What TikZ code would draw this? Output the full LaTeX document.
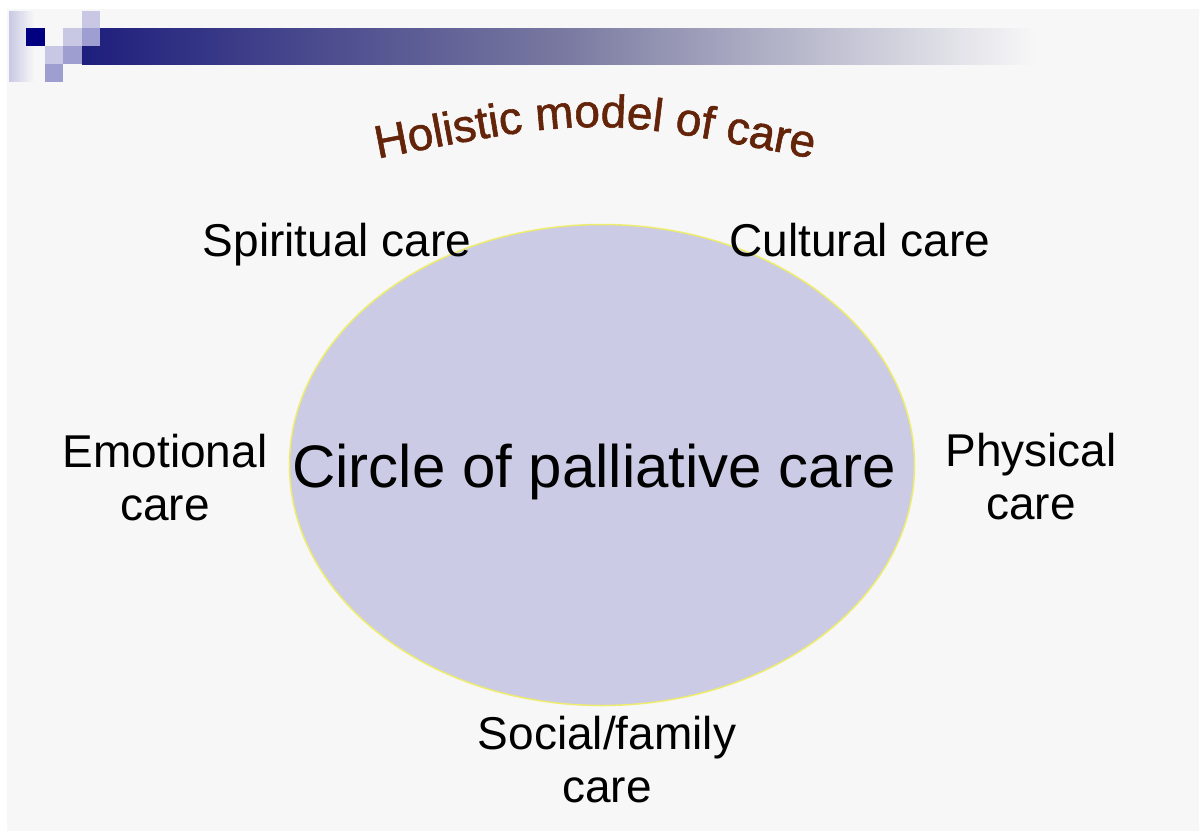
\documentclass[tikz,border=0pt]{standalone}
\usepackage{fontspec}
\setmainfont{Liberation Sans}
\newfontfamily\holfam[FakeBold=1.3]{Liberation Sans}
\usetikzlibrary{shapes.geometric,decorations.text}
\definecolor{slideGray}{HTML}{F7F7F7}
\definecolor{barNavy}{RGB}{30,30,125}
\definecolor{barMid}{RGB}{120,120,160}
\definecolor{sqDark}{RGB}{0,0,128}
\definecolor{sqLight}{RGB}{200,200,228}
\definecolor{sqMid}{RGB}{158,158,208}
\definecolor{careFill}{RGB}{203,203,230}
\definecolor{careRim}{RGB}{238,236,110}
\definecolor{titleBrown}{RGB}{100,36,10}
\newcommand{\holfont}{\holfam\fontsize{46}{46}\selectfont}
\tikzset{
  % the ring in the middle
  hm/ring/.style={
    ellipse, draw=careRim, fill=careFill, line width=1.5pt, inner sep=0pt,
    minimum width=625pt, minimum height=481pt
  },
  % its caption
  hm/core/.style={font=\fontsize{60}{66}\selectfont, inner sep=0pt, text=black},
  % the five kinds of care around it
  hm/label/.style={
    font=\fontsize{46}{53}\selectfont, align=center, inner sep=0pt, text=black
  },
}

\begin{document}
\begin{tikzpicture}[x=1pt,y=-1pt]
  \useasboundingbox (0,0) rectangle (1199,831);
  \fill[slideGray] (7,9) rectangle (1199,831);
  % header bar and squares
  \shade[left color=sqLight, right color=slideGray] (9,11) rectangle (34,81);
  \shade[left color=barNavy, right color=slideGray, middle color=barMid]
    (82,28) rectangle (1035,64);
  \foreach \c/\r/\col in {1/1/sqDark,4/0/sqLight,3/1/sqLight,4/1/sqMid,
                          2/2/sqLight,3/2/sqMid,2/3/sqMid}
    \fill[\col] (8+\c*18.4,10.5+\r*17.9) rectangle ++(18.4,17.9);
  % arched title
  \path[decorate, decoration={text along path, text align=center,
        text color=titleBrown, text={|\holfont|Holistic model of care}}]
    (370,160) .. controls (595,116) .. (820,160);
  \node[hm/ring] (ring) at (602,465) {};
  \node[hm/core, anchor=base] (core) at (594,487) {Circle of palliative care};
  \node[hm/label, anchor=base] (spirit) at (337,256) {Spiritual care};
  \node[hm/label, anchor=base] (culture) at (860,256) {Cultural care};
  \node[hm/label] (emotion) at (165,478) {Emotional\\care};
  \node[hm/label] (body) at (1031,477) {Physical\\care};
  \node[hm/label] (social) at (607,760) {Social/family\\care};
\end{tikzpicture}
\end{document}
